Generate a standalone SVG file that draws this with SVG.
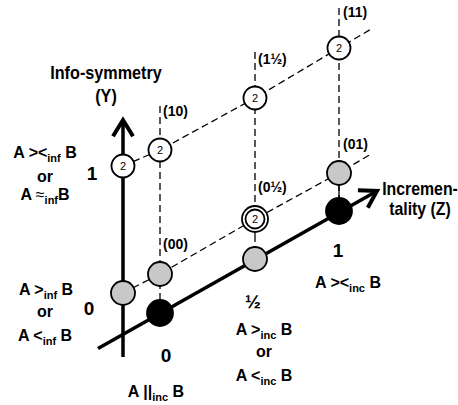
<svg xmlns="http://www.w3.org/2000/svg" width="458" height="405" viewBox="0 0 458 405">
<defs>
<style>
text{font-family:"Liberation Sans",Arial,sans-serif;font-weight:bold;fill:#000}
.lbl{font-size:16px;text-anchor:middle}
.num{font-size:19px;text-anchor:middle}
.ax{font-size:18px;text-anchor:middle}
.nl{font-size:14px}
.sub{font-size:11px}
.two{font-weight:normal;font-size:11px;text-anchor:middle}
.axis{stroke:#000;stroke-width:3.5;fill:none}
.dash{stroke:#000;stroke-width:1.3;stroke-dasharray:7 4;fill:none}
.thin{stroke:#000;stroke-width:1.3;fill:none}
.wc{fill:#fff;stroke:#000;stroke-width:1.8}
.gc{fill:#c8c8c8;stroke:#000;stroke-width:1.8}
.bc{fill:#000;stroke:#000;stroke-width:1.8}
</style>
<marker id="arr" markerUnits="userSpaceOnUse" markerWidth="30" markerHeight="30" refX="0" refY="0" viewBox="-16 -12 20 24" orient="auto">
<path d="M-13,-8 L0,0 L-13,8" fill="none" stroke="#000" stroke-width="3.2"/>
</marker>
</defs>
<g id="connectors">
<line class="dash" x1="160" y1="106" x2="160" y2="300"/>
<line class="dash" x1="255" y1="52" x2="255" y2="232"/>
<line class="thin" x1="255" y1="232" x2="255" y2="242"/>
<line class="dash" x1="339" y1="8" x2="339" y2="200"/>
<line class="thin" x1="339" y1="185" x2="339" y2="200"/>
<polyline class="dash" points="123,293 160,274 255,219 339,173 371,154"/>
<polyline class="dash" points="123,166 160,150 255,98 339,48 373,28"/>
<line class="axis" x1="123" y1="357" x2="123" y2="120" marker-end="url(#arr)"/>
<line class="axis" x1="98" y1="348.5" x2="377" y2="191" marker-end="url(#arr)"/>
</g>
<g id="n-y1"><circle class="wc" cx="123" cy="166" r="11.5"/><text class="two" x="123" y="170">2</text></g>
<g id="n-y0"><circle class="gc" cx="123" cy="293" r="12"/></g>
<g id="n-10"><circle class="wc" cx="160" cy="150" r="11.5"/><text class="two" x="160" y="154">2</text></g>
<g id="n-00"><circle class="gc" cx="160" cy="274" r="12"/></g>
<g id="n-z0"><circle class="bc" cx="160" cy="313" r="13"/></g>
<g id="n-1h"><circle class="wc" cx="255" cy="98" r="11.5"/><text class="two" x="255" y="102">2</text></g>
<g id="n-0h"><circle class="wc" cx="255" cy="219" r="13"/><circle class="wc" cx="255" cy="219" r="9.5" stroke-width="1.4"/><text class="two" x="255" y="223">2</text></g>
<g id="n-zh"><circle class="gc" cx="255" cy="259" r="12"/></g>
<g id="n-11"><circle class="wc" cx="339" cy="48" r="11.5"/><text class="two" x="339" y="52">2</text></g>
<g id="n-01"><circle class="gc" cx="339" cy="173" r="12"/></g>
<g id="n-z1"><circle class="bc" cx="339" cy="211" r="13"/></g>
<g id="labels">
<text class="ax" transform="translate(106,79) scale(0.9,1)">Info-symmetry</text>
<text class="ax" transform="translate(106,102) scale(0.9,1)">(Y)</text>
<text class="ax" transform="translate(420,195) scale(0.88,1)">Incremen-</text>
<text class="ax" transform="translate(420,215) scale(0.88,1)">tality (Z)</text>
<text class="nl" x="163" y="116">(10)</text>
<text class="nl" x="258" y="64">(1½)</text>
<text class="nl" x="343" y="17">(11)</text>
<text class="nl" x="163" y="249">(00)</text>
<text class="nl" x="258" y="192">(0½)</text>
<text class="nl" x="343" y="149">(01)</text>
<text class="num" x="92" y="180">1</text>
<text class="num" x="89" y="315">0</text>
<text class="num" x="166" y="362">0</text>
<text class="num" x="253" y="308">½</text>
<text class="num" x="338" y="257">1</text>
<text class="lbl" x="45" y="158">A &gt;&lt;<tspan class="sub" dy="4">inf</tspan><tspan dy="-4"> B</tspan></text>
<text class="lbl" x="45" y="182">or</text>
<text class="lbl" x="45" y="200">A <tspan font-size="16" font-weight="normal">≈</tspan><tspan class="sub" dy="4">inf</tspan><tspan dy="-4">B</tspan></text>
<text class="lbl" x="46" y="295">A  &gt;<tspan class="sub" dy="4">inf</tspan><tspan dy="-4"> B</tspan></text>
<text class="lbl" x="45" y="317">or</text>
<text class="lbl" x="45" y="341">A &lt;<tspan class="sub" dy="4">inf</tspan><tspan dy="-4"> B</tspan></text>
<text class="lbl" x="156" y="397">A ||<tspan class="sub" dy="4">inc</tspan><tspan dy="-4"> B</tspan></text>
<text class="lbl" x="264" y="335">A  &gt;<tspan class="sub" dy="4">inc</tspan><tspan dy="-4"> B</tspan></text>
<text class="lbl" x="264" y="357">or</text>
<text class="lbl" x="264" y="381">A &lt;<tspan class="sub" dy="4">inc</tspan><tspan dy="-4"> B</tspan></text>
<text class="lbl" x="348" y="288">A &gt;&lt;<tspan class="sub" dy="4">inc</tspan><tspan dy="-4"> B</tspan></text>
</g>
</svg>
